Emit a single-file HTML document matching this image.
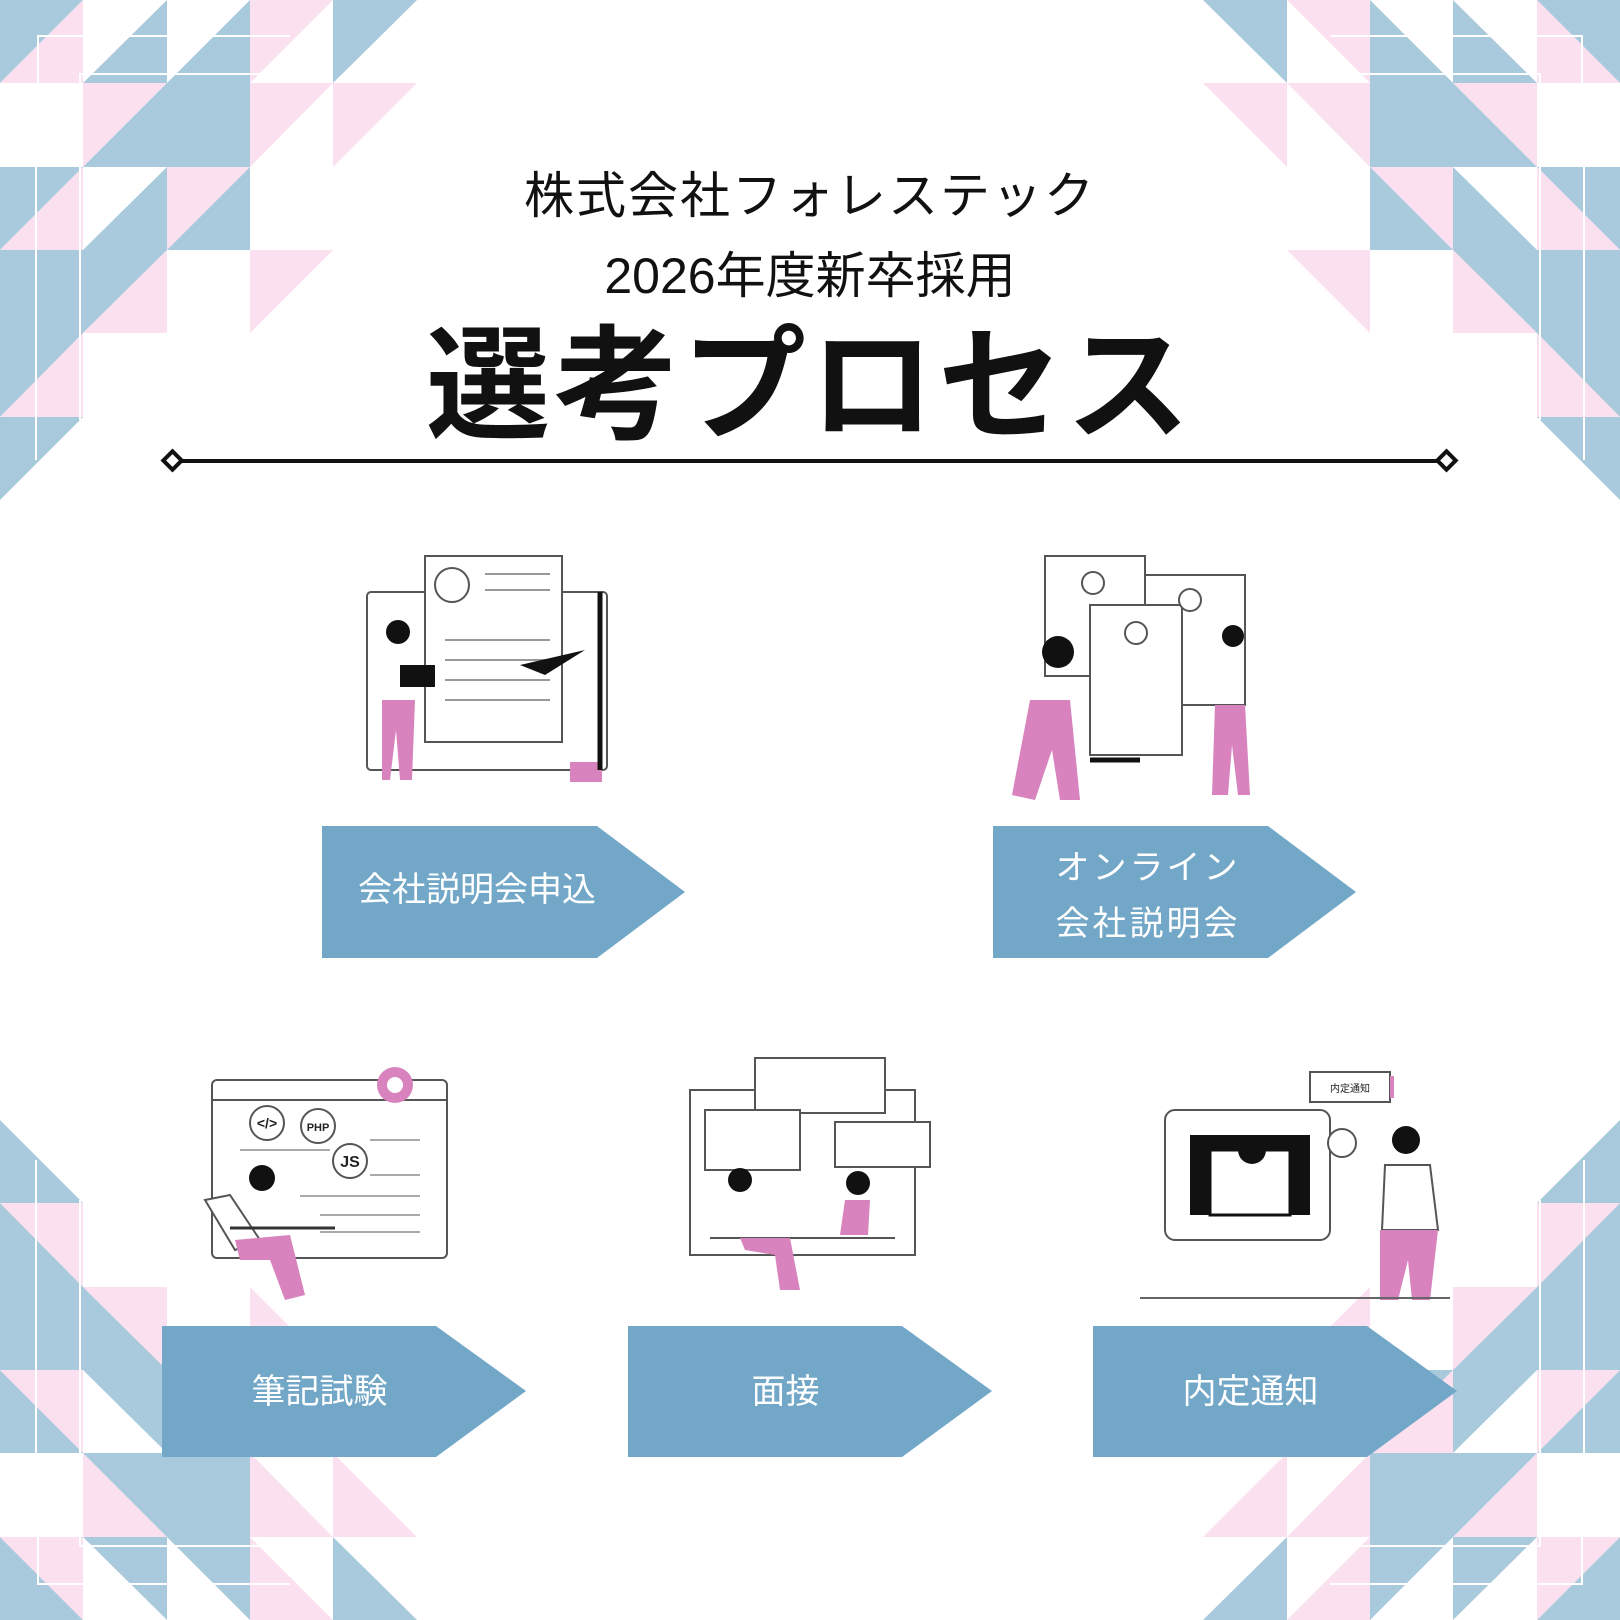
<!DOCTYPE html>
<html><head><meta charset="utf-8"><style>
html,body{margin:0;padding:0;background:#fff}
.wrap{position:relative;width:1620px;height:1620px;overflow:hidden;background:#fff;font-family:"Liberation Sans","Noto Sans CJK JP",sans-serif}
.t{position:absolute;left:0;width:1620px;text-align:center;color:#111}
</style></head><body><div class="wrap">
<svg width="1620" height="1620" style="position:absolute;left:0;top:0">
<defs>
<g id="pat">
<!-- s=83.3 -->
<polygon points="0,0 83,0 0,83" fill="#a9c9dc"/><polygon points="83,0 83,83 0,83" fill="#fbe0ef"/>
<polygon points="167,0 167,83 83,83" fill="#a9c9dc"/>
<polygon points="250,0 250,83 167,83" fill="#a9c9dc"/>
<polygon points="250,0 333,0 250,83" fill="#fbe0ef"/>
<polygon points="333,0 417,0 333,83" fill="#a9c9dc"/>
<polygon points="83,83 167,83 83,167" fill="#fbe0ef"/><polygon points="167,83 167,167 83,167" fill="#a9c9dc"/>
<rect x="167" y="83" width="83" height="84" fill="#a9c9dc"/>
<polygon points="250,83 333,83 250,167" fill="#fbe0ef"/>
<polygon points="333,83 417,83 333,167" fill="#fbe0ef"/>
<polygon points="0,167 83,167 0,250" fill="#a9c9dc"/><polygon points="83,167 83,250 0,250" fill="#fbe0ef"/>
<polygon points="167,167 167,250 83,250" fill="#a9c9dc"/>
<polygon points="167,167 250,167 167,250" fill="#fbe0ef"/><polygon points="250,167 250,250 167,250" fill="#a9c9dc"/>
<rect x="0" y="250" width="83" height="84" fill="#a9c9dc"/>
<polygon points="83,250 167,250 83,333" fill="#a9c9dc"/><polygon points="167,250 167,333 83,333" fill="#fbe0ef"/>
<polygon points="250,250 333,250 250,333" fill="#fbe0ef"/>
<polygon points="0,333 83,333 0,417" fill="#a9c9dc"/><polygon points="83,333 83,417 0,417" fill="#fbe0ef"/>
<polygon points="0,417 83,417 0,500" fill="#a9c9dc"/>
<g stroke="#fff" stroke-width="2" fill="none">
<polyline points="36,167 36,460"/><polyline points="80,167 80,420"/>
<polyline points="38,85 38,36 290,36"/><polyline points="80,167 80,74 260,74"/>
</g>
</g>
</defs>
<use href="#pat"/>
<use href="#pat" transform="translate(1620,0) scale(-1,1)"/>
<use href="#pat" transform="translate(0,1620) scale(1,-1)"/>
<use href="#pat" transform="translate(1620,1620) scale(-1,-1)"/>

<!-- divider -->
<line x1="180" y1="461" x2="1440" y2="461" stroke="#111" stroke-width="4"/>
<rect x="166" y="454" width="13" height="13" transform="rotate(45 172.5 460.5)" fill="#fff" stroke="#111" stroke-width="4"/>
<rect x="1440" y="454" width="13" height="13" transform="rotate(45 1446.5 460.5)" fill="#fff" stroke="#111" stroke-width="4"/>

<!-- arrows -->
<g fill="#72a7c8">
<polygon points="322,826 597,826 685,892 597,958 322,958"/>
<polygon points="993,826 1268,826 1356,892 1268,958 993,958"/>
<polygon points="162,1326 436,1326 526,1391 436,1457 162,1457"/>
<polygon points="628,1326 902,1326 992,1391 902,1457 628,1457"/>
<polygon points="1093,1326 1367,1326 1457,1391 1367,1457 1093,1457"/>
</g>

<!-- illustration 1 -->
<g stroke="#555" stroke-width="2" fill="#fff">
<rect x="367" y="592" width="240" height="178" rx="4"/>
<rect x="425" y="556" width="137" height="186"/>
<circle cx="452" cy="585" r="17"/>
<g stroke="#999"><line x1="485" y1="574" x2="550" y2="574"/><line x1="485" y1="590" x2="550" y2="590"/><line x1="445" y1="640" x2="550" y2="640"/><line x1="445" y1="660" x2="550" y2="660"/><line x1="445" y1="680" x2="550" y2="680"/><line x1="445" y1="700" x2="550" y2="700"/></g>
</g>
<polygon points="520,665 585,650 545,675" fill="#111"/>
<rect x="400" y="665" width="35" height="22" fill="#111"/>
<circle cx="398" cy="632" r="12" fill="#111"/>
<path d="M382 700 L415 700 L412 780 L400 780 L396 730 L390 780 L382 780Z" fill="#d883be"/>
<rect x="570" y="762" width="32" height="20" fill="#d883be"/>
<line x1="600" y1="592" x2="600" y2="770" stroke="#111" stroke-width="5"/>

<!-- illustration 2 -->
<g stroke="#555" stroke-width="2" fill="#fff">
<rect x="1045" y="556" width="100" height="120"/>
<rect x="1145" y="575" width="100" height="130"/>
<rect x="1090" y="605" width="92" height="150"/>
<circle cx="1093" cy="583" r="11"/><circle cx="1190" cy="600" r="11"/><circle cx="1136" cy="633" r="11"/>
</g>
<path d="M1090 760 L1140 760" stroke="#111" stroke-width="5"/>
<circle cx="1058" cy="652" r="16" fill="#111"/>
<path d="M1030 700 L1070 700 L1080 800 L1060 800 L1052 750 L1035 800 L1012 795Z" fill="#d883be"/>
<path d="M1215 705 L1245 705 L1250 795 L1238 795 L1232 745 L1228 795 L1212 795Z" fill="#d883be"/>
<circle cx="1233" cy="636" r="11" fill="#111"/>

<!-- illustration 3 -->
<g stroke="#555" stroke-width="2" fill="#fff">
<rect x="212" y="1080" width="235" height="178" rx="5"/>
<line x1="212" y1="1100" x2="447" y2="1100"/>
<circle cx="267" cy="1123" r="17"/><circle cx="318" cy="1126" r="17"/><circle cx="350" cy="1161" r="17"/>
<g stroke="#aaa"><line x1="240" y1="1150" x2="330" y2="1150"/><line x1="370" y1="1140" x2="420" y2="1140"/><line x1="370" y1="1175" x2="420" y2="1175"/><line x1="300" y1="1196" x2="420" y2="1196"/><line x1="320" y1="1215" x2="420" y2="1215"/><line x1="320" y1="1232" x2="420" y2="1232"/></g>
<path d="M205 1200 L230 1195 L260 1240 L235 1250Z"/>
</g>
<circle cx="395" cy="1085" r="18" fill="#d883be"/><circle cx="395" cy="1085" r="8" fill="#fff"/>
<text x="267" y="1128" font-size="14" font-weight="bold" text-anchor="middle" fill="#222">&lt;/&gt;</text>
<text x="318" y="1131" font-size="11" font-weight="bold" text-anchor="middle" fill="#222">PHP</text>
<text x="350" y="1167" font-size="16" font-weight="bold" text-anchor="middle" fill="#222">JS</text>
<circle cx="262" cy="1178" r="13" fill="#111"/>
<path d="M235 1240 L290 1235 L305 1295 L285 1300 L270 1260 L240 1260Z" fill="#d883be"/>
<line x1="230" y1="1228" x2="335" y2="1228" stroke="#333" stroke-width="3"/>

<!-- illustration 4 -->
<g stroke="#555" stroke-width="2" fill="#fff">
<rect x="690" y="1090" width="225" height="165"/>
<rect x="755" y="1058" width="130" height="55"/>
<rect x="705" y="1110" width="95" height="60"/>
<rect x="835" y="1122" width="95" height="45"/>
<line x1="710" y1="1238" x2="895" y2="1238"/>
</g>
<circle cx="740" cy="1180" r="12" fill="#111"/><circle cx="858" cy="1183" r="12" fill="#111"/>
<path d="M740 1238 L790 1238 L800 1290 L780 1290 L775 1255 L745 1250Z" fill="#d883be"/>
<path d="M845 1200 L870 1200 L868 1235 L840 1235Z" fill="#d883be"/>

<!-- illustration 5 -->
<g stroke="#555" stroke-width="2" fill="#fff">
<rect x="1165" y="1110" width="165" height="130" rx="10"/>
<rect x="1310" y="1072" width="80" height="30"/>
</g>
<rect x="1190" y="1135" width="120" height="80" fill="#111"/>
<rect x="1210" y="1150" width="80" height="65" fill="#fff" stroke="#111" stroke-width="3"/>
<circle cx="1252" cy="1150" r="14" fill="#111"/>
<rect x="1390" y="1076" width="4" height="22" fill="#d883be"/>
<text x="1350" y="1092" font-size="10" text-anchor="middle" fill="#222" font-family="Liberation Sans,Noto Sans CJK JP,sans-serif">内定通知</text>
<circle cx="1342" cy="1143" r="14" fill="#fff" stroke="#555" stroke-width="2"/>
<circle cx="1406" cy="1140" r="14" fill="#111"/>
<path d="M1385 1165 L1430 1165 L1438 1230 L1382 1230Z" fill="#fff" stroke="#555" stroke-width="2"/>
<path d="M1380 1230 L1438 1230 L1430 1300 L1412 1300 L1408 1260 L1398 1300 L1380 1300Z" fill="#d883be"/>
<line x1="1140" y1="1298" x2="1450" y2="1298" stroke="#666" stroke-width="2"/>
</svg>

<div class="t" style="top:166px;font-size:50px;line-height:60px;letter-spacing:2px">株式会社フォレステック</div>
<div class="t" style="top:246px;font-size:50px;line-height:60px">2026年度新卒採用</div>
<div class="t" style="top:312px;font-size:124px;line-height:150px;font-weight:bold;letter-spacing:4px">選考プロセス</div>

<div style="position:absolute;left:322px;top:866px;width:310px;text-align:center;color:#fff;font-size:34px;line-height:48px">会社説明会申込</div>
<div style="position:absolute;left:993px;top:840px;width:310px;text-align:center;color:#fff;font-size:34px;line-height:56px;letter-spacing:3px">オンライン<br>会社説明会</div>
<div style="position:absolute;left:162px;top:1368px;width:315px;text-align:center;color:#fff;font-size:34px;line-height:48px">筆記試験</div>
<div style="position:absolute;left:628px;top:1368px;width:315px;text-align:center;color:#fff;font-size:34px;line-height:48px">面接</div>
<div style="position:absolute;left:1093px;top:1368px;width:315px;text-align:center;color:#fff;font-size:34px;line-height:48px">内定通知</div>
</div></body></html>
